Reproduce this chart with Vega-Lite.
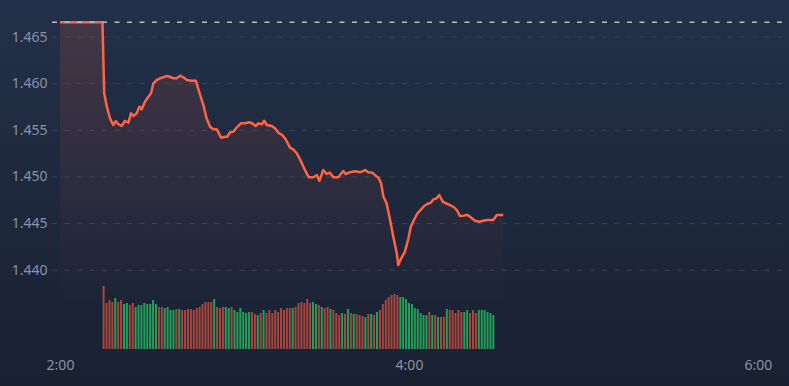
{
  "$schema": "https://vega.github.io/schema/vega-lite/v6.json",
  "width": 789,
  "height": 386,
  "padding": 0,
  "autosize": {"type": "none"},
  "background": "#1d273a",
  "config": {
    "view": {"stroke": null},
    "scale": {"continuousPadding": 0},
    "axis": {"labelFont": "Noto Sans", "labelFontSize": 14, "labelColor": "#8a93a4", "domain": false, "ticks": false, "grid": false, "title": null}
  },
  "datasets": {
    "price": [
      {"minute":120,"price":1.46658},{"minute":134.6,"price":1.46658},{"minute":135.2,"price":1.45897},{"minute":136.1,"price":1.45753},{"minute":137.2,"price":1.45629},{"minute":138.3,"price":1.45557},{"minute":139.2,"price":1.456},{"minute":140.0,"price":1.45568},{"minute":141.2,"price":1.45546},{"minute":142.3,"price":1.456},{"minute":143.5,"price":1.45581},{"minute":144.4,"price":1.45682},{"minute":145.2,"price":1.45653},{"minute":146.4,"price":1.45682},{"minute":147.3,"price":1.45753},{"minute":148.1,"price":1.45725},{"minute":149.2,"price":1.45807},{"minute":150.4,"price":1.4586},{"minute":151.3,"price":1.45897},{"minute":152.1,"price":1.46004},{"minute":153.2,"price":1.46039},{"minute":154.4,"price":1.46057},{"minute":155.5,"price":1.46068},{"minute":156.7,"price":1.46082},{"minute":157.8,"price":1.46074},{"minute":159.0,"price":1.46057},{"minute":160.1,"price":1.46057},{"minute":161.3,"price":1.46085},{"minute":162.4,"price":1.46068},{"minute":163.6,"price":1.46039},{"minute":165.3,"price":1.46032},{"minute":166.7,"price":1.46032},{"minute":168.1,"price":1.45889},{"minute":169.3,"price":1.45771},{"minute":170.4,"price":1.45629},{"minute":171.6,"price":1.45539},{"minute":172.7,"price":1.45511},{"minute":173.9,"price":1.45511},{"minute":175.4,"price":1.45421},{"minute":176.7,"price":1.45431},{"minute":177.5,"price":1.45431},{"minute":178.5,"price":1.45479},{"minute":179.6,"price":1.45485},{"minute":180.8,"price":1.45532},{"minute":182.2,"price":1.45575},{"minute":183.6,"price":1.45575},{"minute":185.0,"price":1.45586},{"minute":186.1,"price":1.45575},{"minute":187.3,"price":1.45546},{"minute":188.2,"price":1.45575},{"minute":189.4,"price":1.45564},{"minute":190.2,"price":1.45603},{"minute":191.1,"price":1.45557},{"minute":192.8,"price":1.45546},{"minute":193.9,"price":1.45521},{"minute":195.1,"price":1.45474},{"minute":196.4,"price":1.4545},{"minute":197.6,"price":1.45404},{"minute":199.1,"price":1.45314},{"minute":200.2,"price":1.45296},{"minute":201.4,"price":1.45254},{"minute":202.5,"price":1.45192},{"minute":203.7,"price":1.4511},{"minute":204.8,"price":1.45039},{"minute":205.6,"price":1.44996},{"minute":207.1,"price":1.44996},{"minute":208.3,"price":1.45021},{"minute":209.2,"price":1.44957},{"minute":210.5,"price":1.45074},{"minute":211.7,"price":1.45032},{"minute":212.8,"price":1.45046},{"minute":214.0,"price":1.44996},{"minute":215.7,"price":1.44996},{"minute":217.4,"price":1.45064},{"minute":218.2,"price":1.45032},{"minute":219.7,"price":1.4505},{"minute":221.4,"price":1.45061},{"minute":223.2,"price":1.4505},{"minute":224.9,"price":1.45074},{"minute":226.0,"price":1.4505},{"minute":227.4,"price":1.45046},{"minute":228.9,"price":1.45003},{"minute":229.4,"price":1.44996},{"minute":230.4,"price":1.44932},{"minute":231.2,"price":1.44788},{"minute":232.3,"price":1.44718},{"minute":233.5,"price":1.44539},{"minute":234.6,"price":1.4436},{"minute":235.8,"price":1.44182},{"minute":236.3,"price":1.44056},{"minute":237.5,"price":1.44139},{"minute":238.6,"price":1.44199},{"minute":239.8,"price":1.44342},{"minute":240.6,"price":1.44467},{"minute":241.7,"price":1.44539},{"minute":242.9,"price":1.4461},{"minute":244.0,"price":1.44646},{"minute":245.2,"price":1.44689},{"minute":246.3,"price":1.4471},{"minute":247.5,"price":1.44724},{"minute":248.4,"price":1.4476},{"minute":249.5,"price":1.44771},{"minute":250.4,"price":1.44807},{"minute":251.6,"price":1.44735},{"minute":252.7,"price":1.44718},{"minute":254.1,"price":1.44699},{"minute":255.5,"price":1.44675},{"minute":256.6,"price":1.44638},{"minute":257.5,"price":1.44581},{"minute":258.9,"price":1.44585},{"minute":260.0,"price":1.44595},{"minute":261.2,"price":1.44567},{"minute":262.7,"price":1.44531},{"minute":264.2,"price":1.4452},{"minute":265.5,"price":1.44531},{"minute":266.9,"price":1.44539},{"minute":269.0,"price":1.44539},{"minute":270.2,"price":1.44592},{"minute":272.4,"price":1.44592}
    ],
    "volume": [
      {"minute":135,"vol":6300,"dir":"rise"},{"minute":136,"vol":4600,"dir":"rise"},{"minute":137,"vol":4900,"dir":"rise"},{"minute":138,"vol":4700,"dir":"rise"},{"minute":139,"vol":5100,"dir":"fall"},{"minute":140,"vol":4700,"dir":"rise"},{"minute":141,"vol":4900,"dir":"rise"},{"minute":142,"vol":4500,"dir":"fall"},{"minute":143,"vol":4600,"dir":"fall"},{"minute":144,"vol":4400,"dir":"rise"},
      {"minute":145,"vol":4600,"dir":"rise"},{"minute":146,"vol":4200,"dir":"fall"},{"minute":147,"vol":4400,"dir":"fall"},{"minute":148,"vol":4400,"dir":"fall"},{"minute":149,"vol":4600,"dir":"fall"},{"minute":150,"vol":4500,"dir":"fall"},{"minute":151,"vol":4500,"dir":"fall"},{"minute":152,"vol":4900,"dir":"fall"},{"minute":153,"vol":4500,"dir":"fall"},{"minute":154,"vol":4200,"dir":"rise"},
      {"minute":155,"vol":4200,"dir":"rise"},{"minute":156,"vol":4100,"dir":"fall"},{"minute":157,"vol":4200,"dir":"fall"},{"minute":158,"vol":3900,"dir":"fall"},{"minute":159,"vol":3900,"dir":"fall"},{"minute":160,"vol":4000,"dir":"rise"},{"minute":161,"vol":4000,"dir":"fall"},{"minute":162,"vol":3900,"dir":"rise"},{"minute":163,"vol":3900,"dir":"rise"},{"minute":164,"vol":4000,"dir":"rise"},
      {"minute":165,"vol":4000,"dir":"rise"},{"minute":166,"vol":3900,"dir":"rise"},{"minute":167,"vol":4100,"dir":"rise"},{"minute":168,"vol":4200,"dir":"rise"},{"minute":169,"vol":4500,"dir":"rise"},{"minute":170,"vol":4700,"dir":"rise"},{"minute":171,"vol":4700,"dir":"rise"},{"minute":172,"vol":4700,"dir":"rise"},{"minute":173,"vol":5000,"dir":"fall"},{"minute":174,"vol":4200,"dir":"rise"},
      {"minute":175,"vol":4100,"dir":"rise"},{"minute":176,"vol":4200,"dir":"rise"},{"minute":177,"vol":4200,"dir":"fall"},{"minute":178,"vol":4100,"dir":"fall"},{"minute":179,"vol":4200,"dir":"rise"},{"minute":180,"vol":3900,"dir":"fall"},{"minute":181,"vol":3700,"dir":"fall"},{"minute":182,"vol":4100,"dir":"fall"},{"minute":183,"vol":3700,"dir":"fall"},{"minute":184,"vol":3600,"dir":"fall"},
      {"minute":185,"vol":3700,"dir":"fall"},{"minute":186,"vol":3700,"dir":"rise"},{"minute":187,"vol":3500,"dir":"rise"},{"minute":188,"vol":3400,"dir":"fall"},{"minute":189,"vol":3600,"dir":"rise"},{"minute":190,"vol":3900,"dir":"fall"},{"minute":191,"vol":3600,"dir":"rise"},{"minute":192,"vol":3900,"dir":"rise"},{"minute":193,"vol":3600,"dir":"rise"},{"minute":194,"vol":3900,"dir":"rise"},
      {"minute":195,"vol":3700,"dir":"rise"},{"minute":196,"vol":4100,"dir":"rise"},{"minute":197,"vol":3900,"dir":"rise"},{"minute":198,"vol":4100,"dir":"rise"},{"minute":199,"vol":4100,"dir":"rise"},{"minute":200,"vol":4100,"dir":"fall"},{"minute":201,"vol":4200,"dir":"rise"},{"minute":202,"vol":4600,"dir":"rise"},{"minute":203,"vol":4700,"dir":"rise"},{"minute":204,"vol":4600,"dir":"rise"},
      {"minute":205,"vol":5000,"dir":"rise"},{"minute":206,"vol":4600,"dir":"rise"},{"minute":207,"vol":4700,"dir":"fall"},{"minute":208,"vol":4500,"dir":"fall"},{"minute":209,"vol":4400,"dir":"rise"},{"minute":210,"vol":4200,"dir":"fall"},{"minute":211,"vol":4100,"dir":"rise"},{"minute":212,"vol":4200,"dir":"rise"},{"minute":213,"vol":4000,"dir":"fall"},{"minute":214,"vol":3900,"dir":"rise"},
      {"minute":215,"vol":3600,"dir":"rise"},{"minute":216,"vol":3400,"dir":"rise"},{"minute":217,"vol":3600,"dir":"fall"},{"minute":218,"vol":3500,"dir":"rise"},{"minute":219,"vol":4000,"dir":"fall"},{"minute":220,"vol":3600,"dir":"rise"},{"minute":221,"vol":3500,"dir":"fall"},{"minute":222,"vol":3500,"dir":"rise"},{"minute":223,"vol":3400,"dir":"rise"},{"minute":224,"vol":3300,"dir":"rise"},
      {"minute":225,"vol":3200,"dir":"fall"},{"minute":226,"vol":3500,"dir":"rise"},{"minute":227,"vol":3500,"dir":"fall"},{"minute":228,"vol":3400,"dir":"rise"},{"minute":229,"vol":3700,"dir":"fall"},{"minute":230,"vol":3900,"dir":"rise"},{"minute":231,"vol":4500,"dir":"rise"},{"minute":232,"vol":4900,"dir":"rise"},{"minute":233,"vol":5200,"dir":"rise"},{"minute":234,"vol":5400,"dir":"rise"},
      {"minute":235,"vol":5500,"dir":"rise"},{"minute":236,"vol":5400,"dir":"rise"},{"minute":237,"vol":5200,"dir":"fall"},{"minute":238,"vol":5200,"dir":"fall"},{"minute":239,"vol":5000,"dir":"fall"},{"minute":240,"vol":4600,"dir":"fall"},{"minute":241,"vol":4500,"dir":"fall"},{"minute":242,"vol":4100,"dir":"fall"},{"minute":243,"vol":4000,"dir":"fall"},{"minute":244,"vol":3600,"dir":"fall"},
      {"minute":245,"vol":3400,"dir":"fall"},{"minute":246,"vol":3400,"dir":"fall"},{"minute":247,"vol":3700,"dir":"rise"},{"minute":248,"vol":3400,"dir":"fall"},{"minute":249,"vol":3400,"dir":"rise"},{"minute":250,"vol":3200,"dir":"fall"},{"minute":251,"vol":3200,"dir":"rise"},{"minute":252,"vol":3200,"dir":"rise"},{"minute":253,"vol":4000,"dir":"fall"},{"minute":254,"vol":3900,"dir":"rise"},
      {"minute":255,"vol":3900,"dir":"rise"},{"minute":256,"vol":3600,"dir":"rise"},{"minute":257,"vol":3900,"dir":"rise"},{"minute":258,"vol":3700,"dir":"rise"},{"minute":259,"vol":3700,"dir":"fall"},{"minute":260,"vol":3900,"dir":"fall"},{"minute":261,"vol":3600,"dir":"rise"},{"minute":262,"vol":3900,"dir":"rise"},{"minute":263,"vol":3600,"dir":"rise"},{"minute":264,"vol":3900,"dir":"fall"},
      {"minute":265,"vol":3900,"dir":"fall"},{"minute":266,"vol":3900,"dir":"fall"},{"minute":267,"vol":3700,"dir":"fall"},{"minute":268,"vol":3600,"dir":"fall"},{"minute":269,"vol":3400,"dir":"fall"}
    ],
    "grid": [{"price":1.44},{"price":1.445},{"price":1.45},{"price":1.455},{"price":1.46},{"price":1.465}],
    "ref": [{"price":1.46658}]
  },
  "layer": [
    {
      "data": {"values": [{}]},
      "mark": {"type": "rect", "fill": {"gradient": "linear", "x1": 0, "y1": 0, "x2": 0, "y2": 1, "stops": [{"offset": 0, "color": "#233049"}, {"offset": 1, "color": "#192131"}]}},
      "encoding": {
        "x": {"datum": 99.37, "type": "quantitative", "scale": {"domain": [99.37, 370.66], "nice": false, "zero": false, "padding": 0}, "axis": {"orient": "bottom", "values": [120, 240, 360], "labelExpr": "floor(datum.value/60) + ':00'", "offset": -31, "labelPadding": 3, "labelFlush": false, "labelOverlap": false, "zindex": 3}},
        "x2": {"datum": 370.66},
        "y": {"datum": 1.468966, "type": "quantitative", "scale": {"domain": [1.427594, 1.468966], "nice": false, "zero": false}, "axis": null},
        "y2": {"datum": 1.427594}
      }
    },
    {
      "data": {"name": "grid"},
      "mark": {"type": "rule", "stroke": "#36435a", "strokeWidth": 1, "strokeDash": [5, 7.5]},
      "encoding": {
        "x": {"datum": 117.25, "type": "quantitative", "axis": {"orient": "bottom", "values": [120, 240, 360], "labelExpr": "floor(datum.value/60) + ':00'", "offset": -31, "labelPadding": 3, "labelFlush": false, "labelOverlap": false, "zindex": 3}},
        "x2": {"datum": 370.66},
        "y": {"field": "price", "type": "quantitative", "scale": {"domain": [1.427594, 1.468966], "nice": false, "zero": false}, "axis": null}
      }
    },
    {
      "data": {"name": "price"},
      "mark": {"type": "area", "fill": {"gradient": "linear", "x1": 0, "y1": 0, "x2": 0, "y2": 1, "stops": [{"offset": 0, "color": "rgba(255,95,65,0.15)"}, {"offset": 1, "color": "rgba(255,95,65,0)"}]}},
      "encoding": {
        "x": {"field": "minute", "type": "quantitative", "axis": {"orient": "bottom", "values": [120, 240, 360], "labelExpr": "floor(datum.value/60) + ':00'", "offset": -31, "labelPadding": 3, "labelFlush": false, "labelOverlap": false, "zindex": 3}},
        "y": {"field": "price", "type": "quantitative", "scale": {"domain": [1.427594, 1.468966], "nice": false, "zero": false}, "axis": null},
        "y2": {"datum": 1.4364}
      }
    },
    {
      "data": {"name": "volume"},
      "mark": {"type": "bar", "width": 2},
      "encoding": {
        "x": {"field": "minute", "type": "quantitative", "axis": {"orient": "bottom", "values": [120, 240, 360], "labelExpr": "floor(datum.value/60) + ':00'", "offset": -31, "labelPadding": 3, "labelFlush": false, "labelOverlap": false, "zindex": 3}},
        "y": {"field": "vol", "type": "quantitative", "scale": {"domain": [-3700, 34900], "nice": false, "zero": false}, "axis": null},
        "y2": {"datum": 0},
        "color": {"field": "dir", "type": "nominal", "scale": {"domain": ["rise", "fall"], "range": ["#a9463d", "#23a057"]}, "legend": null}
      }
    },
    {
      "data": {"name": "price"},
      "mark": {"type": "line", "stroke": "#ff6544", "strokeWidth": 2.5, "strokeJoin": "round"},
      "encoding": {
        "x": {"field": "minute", "type": "quantitative", "axis": {"orient": "bottom", "values": [120, 240, 360], "labelExpr": "floor(datum.value/60) + ':00'", "offset": -31, "labelPadding": 3, "labelFlush": false, "labelOverlap": false, "zindex": 3}},
        "y": {"field": "price", "type": "quantitative", "scale": {"domain": [1.427594, 1.468966], "nice": false, "zero": false}, "axis": {"orient": "left", "values": [1.44, 1.445, 1.45, 1.455, 1.46, 1.465], "format": ".3f", "offset": -52, "labelPadding": 5, "zindex": 3}}
      }
    },
    {
      "data": {"name": "ref"},
      "mark": {"type": "rule", "stroke": "#b4bcc8", "strokeWidth": 1.5, "strokeDash": [5, 7.5]},
      "encoding": {
        "x": {"datum": 117.25, "type": "quantitative", "axis": {"orient": "bottom", "values": [120, 240, 360], "labelExpr": "floor(datum.value/60) + ':00'", "offset": -31, "labelPadding": 3, "labelFlush": false, "labelOverlap": false, "zindex": 3}},
        "x2": {"datum": 370.66},
        "y": {"field": "price", "type": "quantitative", "scale": {"domain": [1.427594, 1.468966], "nice": false, "zero": false}, "axis": null}
      }
    }
  ],
  "resolve": {"scale": {"y": "independent"}}
}
